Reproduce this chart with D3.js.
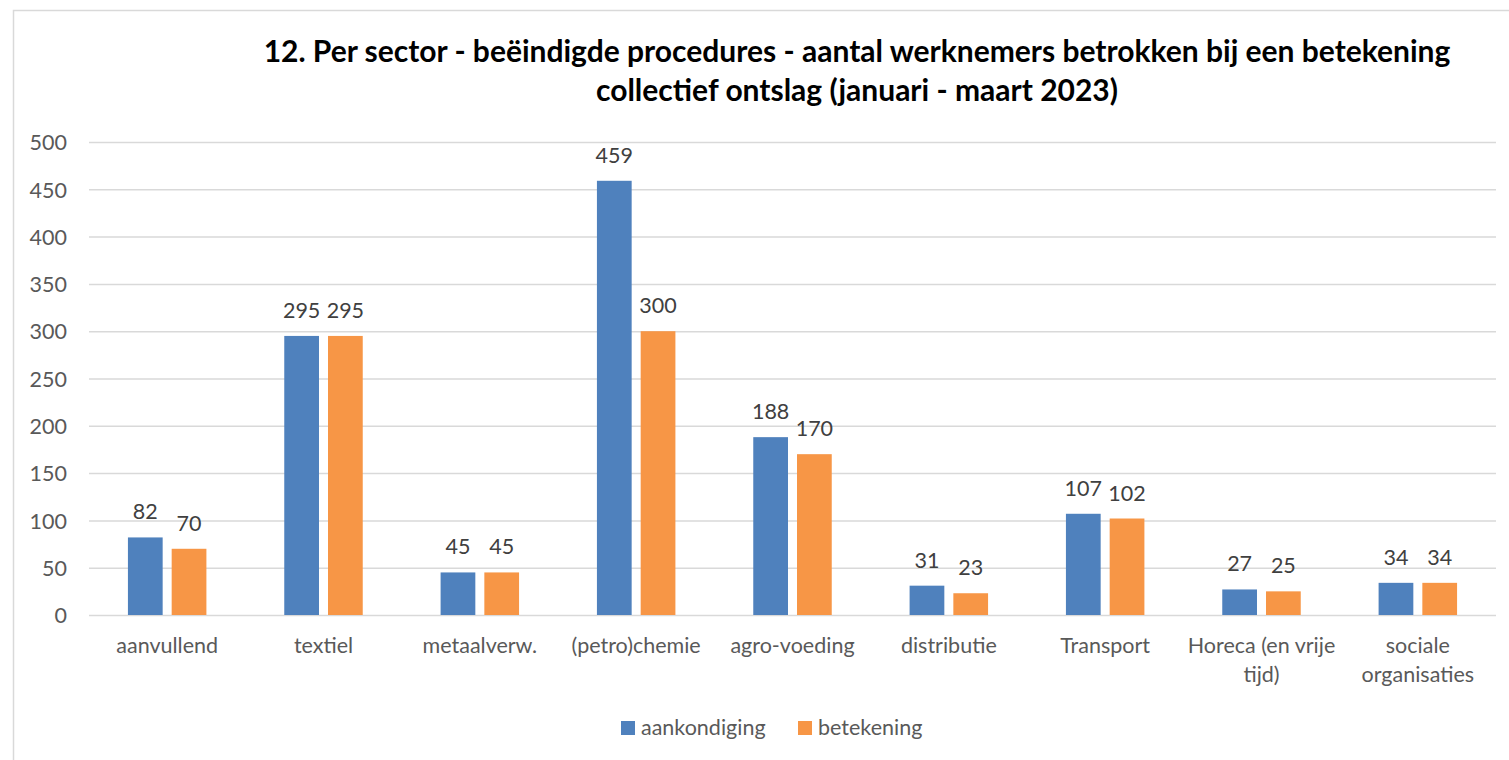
<!DOCTYPE html>
<html><head><meta charset="utf-8">
<script src="https://cdn.jsdelivr.net/npm/d3@7"></script>
<style>body{margin:0;background:#fff}svg{display:block}text{font-family:Lato,"Open Sans",sans-serif}</style>
</head><body>
<svg id="c" width="1509" height="760"></svg>
<script>
const categories = [["aanvullend"],["textiel"],["metaalverw."],["(petro)chemie"],["agro-voeding"],["distributie"],["Transport"],["Horeca (en vrije","tijd)"],["sociale","organisaties"]];
const seriesNames = ["aankondiging","betekening"];
const aankondiging = [82,295,45,459,188,31,107,27,34];
const betekening = [70,295,45,300,170,23,102,25,34];
const yTicks = [0,50,100,150,200,250,300,350,400,450,500];
const titleLines = ["12. Per sector - beëindigde procedures - aantal werknemers betrokken bij een betekening","collectief ontslag (januari - maart 2023)"];
const colors = ["#4F81BD","#F79646"];

const fs = 21.5;
const svg = d3.select("#c");
svg.append("rect").attr("x",13.5).attr("y",10.5).attr("width",1600).attr("height",900).attr("fill","#fff").attr("stroke","#d9d9d9").attr("stroke-width",1.5);

const x = d3.scaleBand().domain(d3.range(categories.length)).range([89,1496]).paddingInner(0).paddingOuter(0);
const y = d3.scaleLinear().domain([0,500]).range([615,142]);
const inner = d3.scaleBand().domain([0,1]).range([0,x.bandwidth()]).paddingInner(0.206).paddingOuter(0.89);

const yAxis = d3.axisLeft(y).tickValues(yTicks).tickSize(-(1496-89)).tickPadding(22);
const gy = svg.append("g").attr("transform","translate(89,0)").call(yAxis);
gy.select(".domain").remove();
gy.selectAll(".tick line").attr("stroke","#d9d9d9").attr("stroke-width",1.5);
gy.selectAll(".tick text").attr("fill","#595959").attr("font-size",fs).attr("font-family","Lato").attr("dy","0.36em");

const data = [aankondiging, betekening];
data.forEach((vals,s)=>{
  const g = svg.append("g");
  g.selectAll("rect").data(vals).join("rect")
    .attr("x",(d,i)=>x(i)+inner(s)).attr("width",inner.bandwidth())
    .attr("y",d=>y(d)).attr("height",d=>y(0)-y(d))
    .attr("fill",colors[s]);
  g.selectAll("text").data(vals).join("text")
    .attr("x",(d,i)=>x(i)+inner(s)+inner.bandwidth()/2).attr("y",d=>y(d)-18)
    .attr("text-anchor","middle").attr("fill","#404040").attr("font-size",fs).text(d=>d);
});

const xa = svg.append("g");
categories.forEach((lines,i)=>{
  const t = xa.append("text").attr("text-anchor","middle").attr("fill","#595959").attr("font-size",fs);
  lines.forEach((l,k)=>t.append("tspan").attr("x",x(i)+x.bandwidth()/2).attr("y",653+k*29).text(l));
});

const tt = svg.append("text").attr("text-anchor","middle").attr("font-weight","bold").attr("font-size",30).attr("fill","#000");
titleLines.forEach((l,k)=>tt.append("tspan").attr("x",857).attr("y",62+k*39).text(l));

const lg = svg.append("g");
const legX = [621,798];
seriesNames.forEach((n,s)=>{
  lg.append("rect").attr("x",legX[s]).attr("y",721).attr("width",14).attr("height",14).attr("fill",colors[s]);
  lg.append("text").attr("x",legX[s]+20).attr("y",735).attr("fill","#595959").attr("font-size",fs).text(n);
});
</script>
</body></html>
